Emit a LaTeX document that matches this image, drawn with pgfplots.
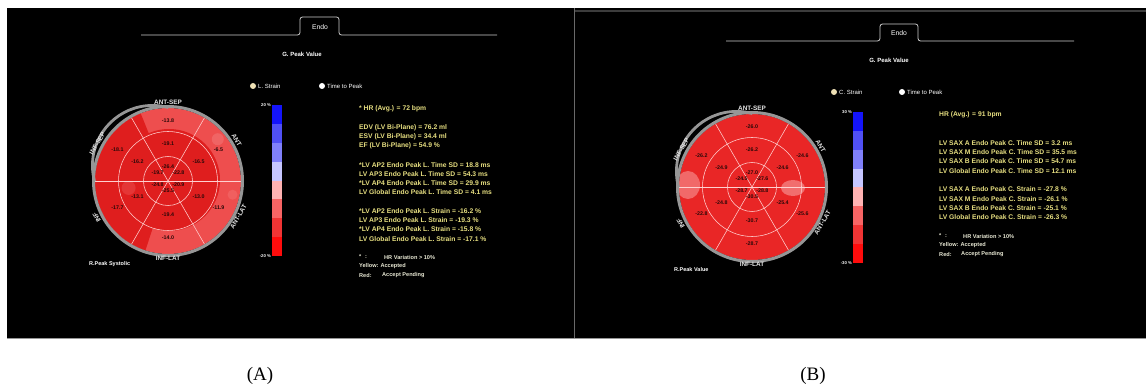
\documentclass[border=0pt]{standalone}
\usepackage{fontspec}
\setmainfont{Liberation Sans}
\newfontfamily\captionfont{Liberation Serif}
\usepackage{pgfplots}
\usepackage{pgfplotstable}
\pgfplotsset{compat=1.18}

% ---------- colours ----------
\definecolor{redlight}{RGB}{238,78,78}
\definecolor{reddark}{RGB}{223,30,30}
\definecolor{redbase}{RGB}{233,38,38}
\definecolor{redspot}{RGB}{244,128,128}
\definecolor{gridpink}{RGB}{255,208,208}
\definecolor{rimgray}{RGB}{150,150,150}
\definecolor{labwhite}{RGB}{228,228,228}
\definecolor{valdark}{RGB}{40,8,8}
\definecolor{infoyel}{RGB}{230,222,128}
\definecolor{notewhite}{RGB}{232,232,212}
\definecolor{tabgray}{RGB}{205,205,205}
\definecolor{cbA}{RGB}{20,20,250}
\definecolor{cbB}{RGB}{80,80,245}
\definecolor{cbC}{RGB}{128,128,250}
\definecolor{cbD}{RGB}{198,198,255}
\definecolor{cbE}{RGB}{255,178,178}
\definecolor{cbF}{RGB}{247,100,100}
\definecolor{cbG}{RGB}{240,52,52}
\definecolor{cbH}{RGB}{255,12,12}

\newcommand\fs[1]{\fontsize{#1}{#1}\selectfont}

% ---------- segment values: angle (deg), label radius (pt), peak strain (%) ----------
\pgfplotstableread{
ang rad val
90 58.3 -13.8
30 58.3 -6.5
-30 58.3 -11.9
-90 58.3 -14.0
-150 58.3 -17.7
150 58.3 -18.1
90 35.3 -19.1
30 35.3 -16.5
-30 35.3 -13.0
-90 35.3 -19.4
-150 35.3 -13.1
150 35.3 -16.2
90 12 -26.4
30 12 -22.8
-30 12 -20.9
-90 12 -25.5
-150 12 -24.8
150 12 -19.7
}\segLong

\pgfplotstableread{
ang rad val
90 58.3 -26.0
30 58.3 -24.6
-30 58.3 -25.6
-90 58.3 -28.7
-150 58.3 -22.8
150 58.3 -26.2
90 35.3 -26.2
30 35.3 -24.6
-30 35.3 -25.4
-90 35.3 -30.7
-150 35.3 -24.8
150 35.3 -24.9
90 12 -27.0
30 12 -27.6
-30 12 -28.8
-90 12 -30.5
-150 12 -28.7
150 12 -24.5
}\segCirc

\pgfplotsset{
  bullseye/.style={
    anchor=center, width=180pt, height=180pt, scale only axis,
    xmin=-90, xmax=90, ymin=-90, ymax=90,
    hide axis, clip=false,
  },
  segvalues/.style={
    data cs=polar, only marks, mark=none, point meta=explicit,
    nodes near coords={\pgfmathprintnumber[fixed,fixed zerofill,precision=1,assume math mode=true]{\pgfplotspointmeta}},
    nodes near coords style={anchor=center, yshift=2pt, inner sep=0pt,
      font=\bfseries\fs{5.3}, text=valdark},
  },
  colorscale/.style={
    anchor=south west, width=10pt, height=151pt, scale only axis,
    xmin=0, xmax=1, axis line style={draw=none}, xtick=\empty,
    tick style={draw=none}, major tick length=0pt,
    yticklabel style={font=\bfseries\fs{4.2}, text=white, inner sep=1pt},
  },
}

\tikzset{
  gridline/.style={draw=gridpink, line width=0.55pt},
  seglab/.style={font=\bfseries\fs{6.4}, text=labwhite, inner sep=0pt},
  info/.style={anchor=west, font=\bfseries\fs{6.75}, text=infoyel, inner sep=0pt},
  note/.style={anchor=west, font=\bfseries\fs{5.6}, text=notewhite, inner sep=0pt},
  radio/.style={anchor=west, font=\fs{6}, text=white, inner sep=0pt},
  tabline/.style={draw=tabgray, line width=0.8pt, rounded corners=2.5pt},
}

% ring dividers, rim and wall names, common to both bull's-eyes
\newcommand\bullgrid{%
  \draw[gridline] (0,0) circle[radius=24.5pt];
  \draw[gridline] (0,0) circle[radius=49.5pt];
  \draw[gridline] (axis cs:-73,0) -- (axis cs:73,0);
  \draw[gridline] (axis cs:36.5,63.22) -- (axis cs:-36.5,-63.22);
  \draw[gridline] (axis cs:-36.5,63.22) -- (axis cs:36.5,-63.22);
}
% outer rim plus the septal bracket between ANT-SEP and INF
\newcommand\bullrim{%
  \draw[rimgray, line width=3pt] (0,0) circle[radius=74.5pt];
  \begin{scope}
    \clip (0,0) -- (axis cs:0,130)
      -- (axis cs:{130*cos(135)},{130*sin(135)})
      -- (axis cs:-130,0) -- cycle;
    \draw[rimgray, line width=2.8pt] (axis cs:-15.56,15.56) circle[radius=60pt];
  \end{scope}
}
\newcommand\bulllabels{%
  \node[seglab] at (axis cs:0,79) {ANT-SEP};
  \node[seglab, rotate=-60] at (axis cs:{80*cos(31)},{80*sin(31)}) {ANT};
  \node[seglab, rotate=60] at (axis cs:{79*cos(-27)},{79*sin(-27)}) {ANT-LAT};
  \node[seglab] at (axis cs:0,-77) {INF-LAT};
  \node[seglab, rotate=120] at (axis cs:{80*cos(207)},{80*sin(207)}) {INF};
  \node[seglab, rotate=60] at (axis cs:{80*cos(152)},{80*sin(152)}) {INF-SEP};
}

\begin{document}
\begin{tikzpicture}[x=1pt, y=-1pt]
\useasboundingbox (0,0) rectangle (1146,390);
\fill[white] (0,0) rectangle (1146,390);

% ---------- screen panels ----------
\fill[black] (7,8.5) rectangle (573.6,338);
\fill[black] (574.4,8.5) rectangle (1146,338);
\draw[color={rgb,255:red,105;green,105;blue,105}, line width=0.7pt] (574,8.5) -- (574,338);
\draw[color={rgb,255:red,60;green,60;blue,60}, line width=1.2pt] (575,11) -- (1146,11);
\draw[color={rgb,255:red,150;green,150;blue,150}, line width=0.9pt] (7,338.6) -- (1146,338.6);

% ---------- panel A header ----------
\draw[tabline] (141,35) -- (300,35) -- (300,17) -- (339,17) -- (339,35) -- (497,35);
\node[font=\fs{6.8}, text=white] at (320,27) {Endo};
\node[font=\bfseries\fs{6}, text=white] at (302,54) {G. Peak Value};
\fill[color={rgb,255:red,238;green,224;blue,180}] (253,86) circle[radius=3];
\node[radio] at (258,86) {L. Strain};
\fill[white] (322,86) circle[radius=3];
\node[radio] at (327,86) {Time to Peak};

% ---------- panel B header ----------
\draw[tabline] (726,41) -- (880,41) -- (880,24) -- (918,24) -- (918,41) -- (1074,41);
\node[font=\fs{6.8}, text=white] at (899,33) {Endo};
\node[font=\bfseries\fs{6}, text=white] at (889,60) {G. Peak Value};
\fill[color={rgb,255:red,238;green,224;blue,180}] (834,92) circle[radius=3];
\node[radio] at (839,92) {C. Strain};
\fill[white] (902,92) circle[radius=3];
\node[radio] at (907,92) {Time to Peak};

% ---------- bull's-eye A: longitudinal strain ----------
\begin{axis}[bullseye, at={(168pt,-181pt)}]
  \fill[redlight] (0,0) circle[radius=73pt];
  \begin{scope}
    \clip (0,0) circle[radius=73pt];
    \begin{scope}
      \clip (0,0) -- (axis cs:{120*cos(112)},{120*sin(112)})
        -- (axis cs:{120*cos(150)},{120*sin(150)})
        -- (axis cs:{120*cos(180)},{120*sin(180)})
        -- (axis cs:{120*cos(215)},{120*sin(215)})
        -- (axis cs:{120*cos(252)},{120*sin(252)}) -- cycle;
      \fill[reddark] (0,0) circle[radius=73pt];
    \end{scope}
    \fill[reddark] (axis cs:1,1) circle[radius=51pt];
    \fill[redspot, opacity=0.45] (axis cs:{65*cos(40)},{65*sin(40)}) circle[radius=6pt];
    \fill[redspot, opacity=0.35] (axis cs:{66*cos(-12)},{66*sin(-12)}) circle[radius=5pt];
    \fill[redspot, opacity=0.25] (axis cs:{40*cos(190)},{40*sin(190)}) circle[radius=7pt];
  \end{scope}
  \bullgrid
  \bullrim
  \addplot[segvalues] table[x=ang, y=rad, meta=val] {\segLong};
  \bulllabels
\end{axis}
\node[anchor=west, font=\bfseries\fs{5.5}, text=white, inner sep=0pt] at (89,264) {R.Peak Systolic};

% colour scale A
\begin{axis}[colorscale, at={(272pt,-256pt)}, ymin=-20, ymax=20,
    ytick={-20,20}, yticklabels={-20 \%, 20 \%}]
  \addplot[fill=cbH, draw=none] coordinates {(0,-20) (1,-20) (1,-15) (0,-15)} -- cycle;
  \addplot[fill=cbG, draw=none] coordinates {(0,-15) (1,-15) (1,-10) (0,-10)} -- cycle;
  \addplot[fill=cbF, draw=none] coordinates {(0,-10) (1,-10) (1,-5) (0,-5)} -- cycle;
  \addplot[fill=cbE, draw=none] coordinates {(0,-5) (1,-5) (1,0) (0,0)} -- cycle;
  \addplot[fill=cbD, draw=none] coordinates {(0,0) (1,0) (1,5) (0,5)} -- cycle;
  \addplot[fill=cbC, draw=none] coordinates {(0,5) (1,5) (1,10) (0,10)} -- cycle;
  \addplot[fill=cbB, draw=none] coordinates {(0,10) (1,10) (1,15) (0,15)} -- cycle;
  \addplot[fill=cbA, draw=none] coordinates {(0,15) (1,15) (1,20) (0,20)} -- cycle;
\end{axis}

% text block A
\node[info] at (359,109) {* HR (Avg.) = 72 bpm};
\node[info] at (359,128) {EDV (LV Bi-Plane) = 76.2 ml};
\node[info] at (359,137) {ESV (LV Bi-Plane) = 34.4 ml};
\node[info] at (359,146) {EF (LV Bi-Plane) = 54.9 \%};
\node[info] at (359,165) {*LV AP2 Endo Peak L. Time SD = 18.8 ms};
\node[info] at (359,174) {LV AP3 Endo Peak L. Time SD = 54.3 ms};
\node[info] at (359,183) {*LV AP4 Endo Peak L. Time SD = 29.9 ms};
\node[info] at (359,192) {LV Global Endo Peak L. Time SD = 4.1 ms};
\node[info] at (359,211) {*LV AP2 Endo Peak L. Strain = -16.2 \%};
\node[info] at (359,220) {LV AP3 Endo Peak L. Strain = -19.3 \%};
\node[info] at (359,229) {*LV AP4 Endo Peak L. Strain = -15.8 \%};
\node[info] at (359,239) {LV Global Endo Peak L. Strain = -17.1 \%};
\node[note] at (359,257) {*};
\node[note] at (365,257) {:};
\node[note] at (384,257) {HR Variation > 10\%};
\node[note] at (359,266) {Yellow: Accepted};
\node[note] at (359,275) {Red:};
\node[note] at (382,275) {Accept Pending};

% ---------- bull's-eye B: circumferential strain ----------
\begin{axis}[bullseye, at={(752pt,-187pt)}]
  \fill[redbase] (0,0) circle[radius=73pt];
  \begin{scope}
    \clip (0,0) circle[radius=73pt];
    \fill[redspot, opacity=0.75] (axis cs:-64,2) ellipse[x radius=12pt, y radius=14pt];
    \fill[redspot, opacity=0.8] (axis cs:41,-1) ellipse[x radius=12pt, y radius=8pt];
  \end{scope}
  \bullgrid
  \bullrim
  \addplot[segvalues] table[x=ang, y=rad, meta=val] {\segCirc};
  \bulllabels
\end{axis}
\node[anchor=west, font=\bfseries\fs{5.5}, text=white, inner sep=0pt] at (674,270) {R.Peak Value};

% colour scale B
\begin{axis}[colorscale, at={(853pt,-263pt)}, ymin=-30, ymax=30,
    ytick={-30,30}, yticklabels={-30 \%, 30 \%}]
  \addplot[fill=cbH, draw=none] coordinates {(0,-30) (1,-30) (1,-22.5) (0,-22.5)} -- cycle;
  \addplot[fill=cbG, draw=none] coordinates {(0,-22.5) (1,-22.5) (1,-15) (0,-15)} -- cycle;
  \addplot[fill=cbF, draw=none] coordinates {(0,-15) (1,-15) (1,-7.5) (0,-7.5)} -- cycle;
  \addplot[fill=cbE, draw=none] coordinates {(0,-7.5) (1,-7.5) (1,0) (0,0)} -- cycle;
  \addplot[fill=cbD, draw=none] coordinates {(0,0) (1,0) (1,7.5) (0,7.5)} -- cycle;
  \addplot[fill=cbC, draw=none] coordinates {(0,7.5) (1,7.5) (1,15) (0,15)} -- cycle;
  \addplot[fill=cbB, draw=none] coordinates {(0,15) (1,15) (1,22.5) (0,22.5)} -- cycle;
  \addplot[fill=cbA, draw=none] coordinates {(0,22.5) (1,22.5) (1,30) (0,30)} -- cycle;
\end{axis}

% text block B
\node[info] at (939,115) {HR (Avg.) = 91 bpm};
\node[info] at (939,143) {LV SAX A Endo Peak C. Time SD = 3.2 ms};
\node[info] at (939,152) {LV SAX M Endo Peak C. Time SD = 35.5 ms};
\node[info] at (939,161) {LV SAX B Endo Peak C. Time SD = 54.7 ms};
\node[info] at (939,171) {LV Global Endo Peak C. Time SD = 12.1 ms};
\node[info] at (939,189) {LV SAX A Endo Peak C. Strain = -27.8 \%};
\node[info] at (939,199) {LV SAX M Endo Peak C. Strain = -26.1 \%};
\node[info] at (939,208) {LV SAX B Endo Peak C. Strain = -25.1 \%};
\node[info] at (939,217) {LV Global Endo Peak C. Strain = -26.3 \%};
\node[note] at (939,236) {*};
\node[note] at (945,236) {:};
\node[note] at (963,236) {HR Variation > 10\%};
\node[note] at (939,245) {Yellow: Accepted};
\node[note] at (939,254) {Red:};
\node[note] at (961,254) {Accept Pending};

% ---------- panel captions ----------
\node[font=\captionfont\fs{19}] at (260,376) {(A)};
\node[font=\captionfont\fs{19}] at (813,376) {(B)};
\end{tikzpicture}
\end{document}
